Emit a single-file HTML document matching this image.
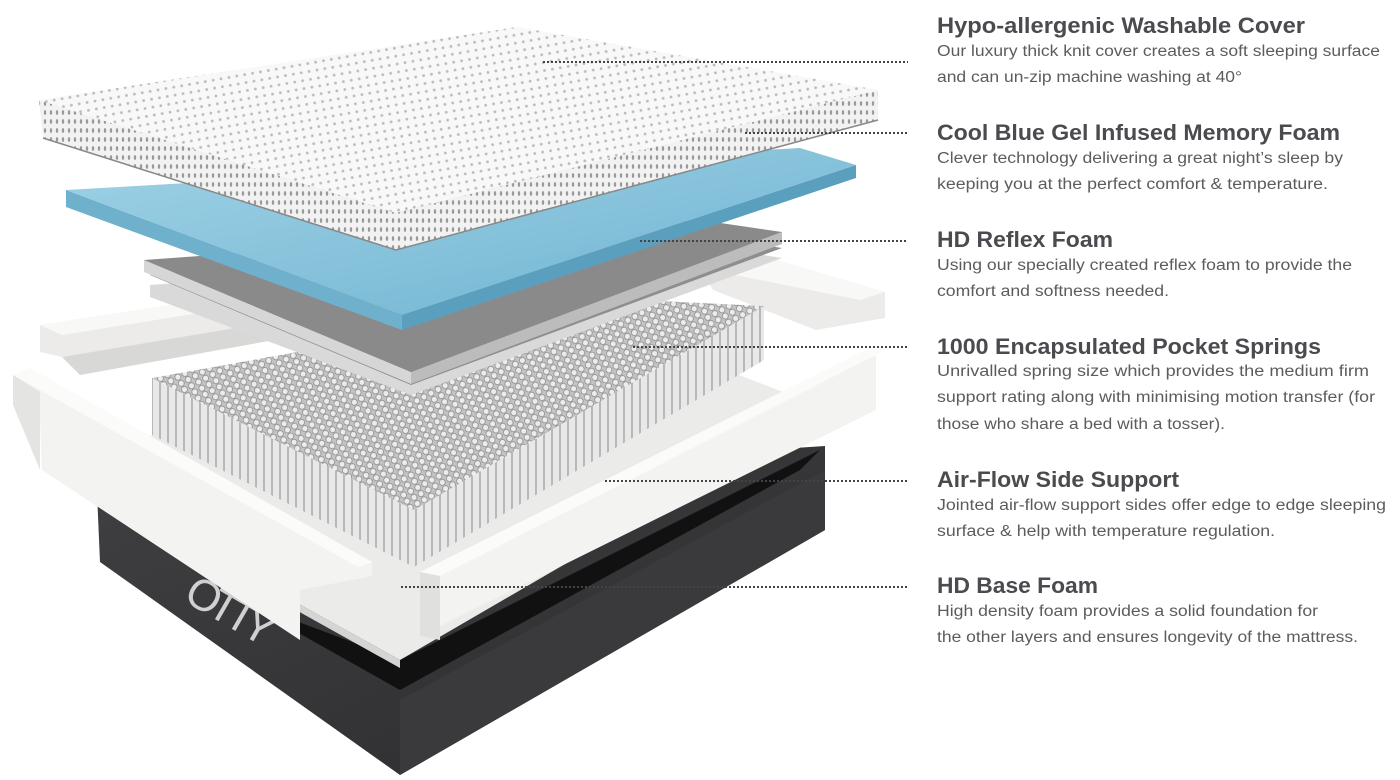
<!DOCTYPE html>
<html><head><meta charset="utf-8"><style>
html,body{margin:0;padding:0;background:#fff;width:1400px;height:780px;overflow:hidden}
svg{display:block}
.h{font-family:"Liberation Sans",sans-serif;font-weight:bold;font-size:22px;fill:#4a4a4f}
.b{font-family:"Liberation Sans",sans-serif;font-size:15.5px;fill:#5c5c5c}
.d{stroke:#444;stroke-width:2;stroke-dasharray:2 2}
</style></head><body>
<svg width="1400" height="780" viewBox="0 0 1400 780" xmlns="http://www.w3.org/2000/svg">
<defs>
<pattern id="dots" width="8" height="8" patternUnits="userSpaceOnUse" patternTransform="rotate(-10)">
<rect width="8" height="8" fill="#f4f4f4"/><circle cx="4" cy="4" r="1.4" fill="#8e8e8e"/></pattern>
<pattern id="sdots" width="6" height="9" patternUnits="userSpaceOnUse">
<rect width="6" height="9" fill="#f2f2f2"/><ellipse cx="3" cy="4.5" rx="1.2" ry="2.4" fill="#9a9a9a"/></pattern>
<pattern id="spr" width="8" height="7" patternUnits="userSpaceOnUse" patternTransform="rotate(-28)">
<rect width="8" height="7" fill="#c4c4c4"/><circle cx="4" cy="3.5" r="3" fill="#ececec" stroke="#8a8a8a" stroke-width="0.8"/></pattern>
<pattern id="col" width="8" height="60" patternUnits="userSpaceOnUse">
<rect width="8" height="60" fill="#b8b8b8"/><rect x="1" width="6" height="60" fill="#e8e8e8"/></pattern>
<linearGradient id="dk" x1="0" y1="0" x2="1" y2="1"><stop offset="0" stop-color="#404042"/><stop offset="1" stop-color="#2c2c2e"/></linearGradient>
<linearGradient id="bl" x1="0" y1="0" x2="1" y2="1"><stop offset="0" stop-color="#9fd2e6"/><stop offset="1" stop-color="#6fb3d0"/></linearGradient>
</defs>

<!-- dark base -->
<polygon points="97,493 825,446 825,530 400,775 100,562" fill="url(#dk)"/>
<polygon points="400,700 825,470 825,530 400,775" fill="#3a3a3c"/>
<polygon points="240,600 400,690 800,470 820,450 400,660" fill="#111"/>
<text x="182" y="600" font-family="Liberation Sans,sans-serif" font-size="44" fill="#d0d0d0" transform="rotate(30 182 600)" textLength="95">OTTY</text>

<!-- back rails -->
<polygon points="40,325 300,285 330,292 330,312 62,357 40,352" fill="#ecebea"/>
<polygon points="40,325 300,285 330,292 62,335" fill="#f8f8f7"/>
<polygon points="62,357 330,312 330,330 80,375" fill="#d8d8d6"/>
<polygon points="700,268 760,255 885,292 885,318 816,330 713,290" fill="#ecebea"/>
<polygon points="700,268 760,255 885,292 860,300" fill="#f8f8f7"/>

<!-- base foam slab -->
<polygon points="120,440 700,360 830,410 400,660 120,505" fill="#ebebe9"/>
<polygon points="120,505 400,660 400,668 120,512" fill="#d5d5d3"/>

<!-- springs -->
<polygon points="152,378 414,510 414,567 152,435" fill="url(#col)"/>
<polygon points="414,510 764,306 764,360 414,567" fill="url(#col)"/>
<polygon points="152,378 600,298 764,306 414,510" fill="url(#spr)"/>

<!-- front left rail -->
<polygon points="13,375 30,368 372,562 372,576 300,590 300,640 42,470 40,420 13,405" fill="#f3f3f1"/>
<polygon points="13,375 30,368 372,562 358,567" fill="#fbfbfa"/>
<polygon points="13,375 40,392 40,470 13,405" fill="#e4e4e2"/>
<!-- front right rail -->
<polygon points="420,572 876,345 876,410 420,636" fill="#f3f3f1"/>
<polygon points="420,572 876,345 890,348 440,576" fill="#fbfbfa"/>
<polygon points="420,572 440,576 440,640 420,636" fill="#e0e0de"/>

<!-- gray layers -->
<polygon points="150,285 700,245 782,258 411,395 150,297" fill="#d9d9d9"/>
<polygon points="150,275 700,235 782,248 411,385" fill="#8e8e8e"/>
<polygon points="144,260 411,372 411,384 144,272" fill="#d6d6d6"/>
<polygon points="411,372 782,232 782,244 411,384" fill="#bcbcbc"/>
<polygon points="144,260 700,220 782,232 411,372" fill="#8a8a8a"/>

<!-- blue layer -->
<polygon points="66,190 402,315 402,330 66,207" fill="#6fb0cc"/>
<polygon points="402,315 856,165 856,178 402,330" fill="#5a9fbe"/>
<polygon points="66,190 800,148 856,165 402,315" fill="url(#bl)"/>

<!-- cover -->
<polygon points="39,100 396,213 396,250 43,138" fill="url(#sdots)"/>
<polygon points="396,213 878,90 878,120 396,250" fill="url(#sdots)"/>
<polygon points="39,100 517,27 878,90 396,213" fill="url(#dots)"/>
<polygon points="39,100 517,27 878,90 396,213" fill="#fff" opacity="0.4"/>
<polyline points="43,138 396,250 878,120" fill="none" stroke="#888" stroke-width="1.5"/>

<!-- dotted leaders -->
<line class="d" x1="543" y1="62" x2="908" y2="62"/>
<line class="d" x1="745" y1="133" x2="908" y2="133"/>
<line class="d" x1="640" y1="241" x2="908" y2="241"/>
<line class="d" x1="633" y1="347" x2="908" y2="347"/>
<line class="d" x1="605" y1="481" x2="908" y2="481"/>
<line class="d" x1="401" y1="587" x2="908" y2="587"/>

<!-- text -->
<text class="h" x="937" y="33" textLength="368" lengthAdjust="spacingAndGlyphs">Hypo-allergenic Washable Cover</text>
<text class="b" x="937" y="56" textLength="443" lengthAdjust="spacingAndGlyphs">Our luxury thick knit cover creates a soft sleeping surface</text>
<text class="b" x="937" y="82" textLength="305" lengthAdjust="spacingAndGlyphs">and can un-zip machine washing at 40°</text>

<text class="h" x="937" y="140" textLength="403" lengthAdjust="spacingAndGlyphs">Cool Blue Gel Infused Memory Foam</text>
<text class="b" x="937" y="163" textLength="406" lengthAdjust="spacingAndGlyphs">Clever technology delivering a great night’s sleep by</text>
<text class="b" x="937" y="189" textLength="391" lengthAdjust="spacingAndGlyphs">keeping you at the perfect comfort &amp; temperature.</text>

<text class="h" x="937" y="247" textLength="176" lengthAdjust="spacingAndGlyphs">HD Reflex Foam</text>
<text class="b" x="937" y="270" textLength="415" lengthAdjust="spacingAndGlyphs">Using our specially created reflex foam to provide the</text>
<text class="b" x="937" y="296" textLength="232" lengthAdjust="spacingAndGlyphs">comfort and softness needed.</text>

<text class="h" x="937" y="354" textLength="384" lengthAdjust="spacingAndGlyphs">1000 Encapsulated Pocket Springs</text>
<text class="b" x="937" y="376" textLength="432" lengthAdjust="spacingAndGlyphs">Unrivalled spring size which provides the medium firm</text>
<text class="b" x="937" y="402" textLength="438" lengthAdjust="spacingAndGlyphs">support rating along with minimising motion transfer (for</text>
<text class="b" x="937" y="429" textLength="288" lengthAdjust="spacingAndGlyphs">those who share a bed with a tosser).</text>

<text class="h" x="937" y="487" textLength="242" lengthAdjust="spacingAndGlyphs">Air-Flow Side Support</text>
<text class="b" x="937" y="510" textLength="449" lengthAdjust="spacingAndGlyphs">Jointed air-flow support sides offer edge to edge sleeping</text>
<text class="b" x="937" y="536" textLength="338" lengthAdjust="spacingAndGlyphs">surface &amp; help with temperature regulation.</text>

<text class="h" x="937" y="593" textLength="161" lengthAdjust="spacingAndGlyphs">HD Base Foam</text>
<text class="b" x="937" y="616" textLength="381" lengthAdjust="spacingAndGlyphs">High density foam provides a solid foundation for</text>
<text class="b" x="937" y="642" textLength="421" lengthAdjust="spacingAndGlyphs">the other layers and ensures longevity of the mattress.</text>
</svg>
</body></html>
